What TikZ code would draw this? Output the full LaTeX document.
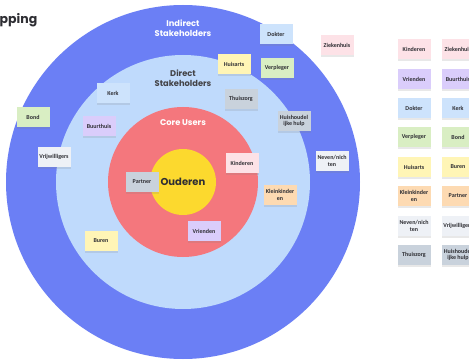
\documentclass[tikz,border=0pt]{standalone}
\usepackage{fontspec}
\setmainfont{Carlito}
\newfontfamily\headfont{Poppins}
\usetikzlibrary{shadows}

\definecolor{outerblue}{HTML}{6B7FF5}
\definecolor{innerblue}{HTML}{BFDAFC}
\definecolor{coreRed}{HTML}{F4777D}
\definecolor{centreYellow}{HTML}{FCD92E}
\definecolor{inkgray}{HTML}{2E2E33}
\definecolor{pinknote}{HTML}{FDE2E7}
\definecolor{purplenote}{HTML}{DACDFB}
\definecolor{bluenote}{HTML}{CDE3FC}
\definecolor{greennote}{HTML}{D9EEC3}
\definecolor{yellownote}{HTML}{FFF5B6}
\definecolor{orangenote}{HTML}{FDDAB2}
\definecolor{palenote}{HTML}{EEF1F6}
\definecolor{graynote}{HTML}{C9D2DC}

\tikzset{
  note/.style={rectangle,
    minimum width=33pt,
    minimum height=20pt,
    inner sep=1pt,
    align=center,
    text=inkgray,
    font=\fontsize{6}{6.8}\selectfont\bfseries,
    drop shadow={opacity=0.18, shadow xshift=0.6pt, shadow yshift=-1.6pt}},
  ringlabel/.style={align=center, font=\headfont\bfseries\fontsize{8.3}{10.3}\selectfont},
}

\begin{document}
\begin{tikzpicture}[x=1pt, y=-1pt]
    \useasboundingbox (0,0) rectangle (469,361);
    \fill[white] (0,0) rectangle (469,361);

    % rings
    \fill[color=outerblue] (183,182) circle[radius=177];
    \fill[color=innerblue] (183,182) circle[radius=127];
    \fill[color=coreRed] (183,182) circle[radius=75];
    \fill[color=centreYellow] (183,182) circle[radius=33];

    \node[anchor=west, inner sep=0pt, text=inkgray, font=\headfont\bfseries\fontsize{12.5}{14}\selectfont] (title) at (-0.5,20) {pping};

    \node[ringlabel, text=white] (indirect) at (183,28) {Indirect\\Stakeholders};
    \node[ringlabel, text=inkgray!90] (direct) at (183,78) {Direct\\Stakeholders};
    \node[ringlabel, text=white] (core) at (183,123) {Core Users};
    \node[ringlabel, text=inkgray, font=\headfont\bfseries\fontsize{10}{12}\selectfont] (ouderen) at (183,182) {Ouderen};

    % notes on the rings
    \node[note, fill=bluenote] (dokter) at (276,34) {Dokter};
    \node[note, fill=pinknote] (ziekenhuis) at (337,45) {Ziekenhuis};
    \node[note, fill=yellownote] (huisarts) at (234,64) {Huisarts};
    \node[note, fill=greennote] (verpleger) at (277,68) {Verpleger};
    \node[note, fill=graynote] (thuiszorg) at (241,99) {Thuiszorg};
    \node[note, fill=graynote] (huishoud) at (294,121) {Huishoudel\\ijke hulp};
    \node[note, fill=bluenote] (kerk) at (113,93) {Kerk};
    \node[note, fill=greennote] (bond) at (33,117) {Bond};
    \node[note, fill=purplenote] (buurthuis) at (99,126) {Buurthuis};
    \node[note, fill=palenote] (vrijwilligers) at (54,157) {Vrijwilligers};
    \node[note, fill=graynote] (partner) at (142,182) {Partner};
    \node[note, fill=pinknote] (kinderen) at (242,163) {Kinderen};
    \node[note, fill=orangenote] (kleinkinderen) at (280,195) {Kleinkinder\\en};
    \node[note, fill=purplenote] (vrienden) at (204,231) {Vrienden};
    \node[note, fill=yellownote] (buren) at (101,241) {Buren};
    \node[note, fill=palenote] (neven) at (332,161) {Neven/nich\\ten};

    % loose notes, two columns
    \node[note, fill=pinknote] (l1a) at (414,49) {Kinderen};
    \node[note, fill=pinknote] (l1b) at (458,49) {Ziekenhuis};
    \node[note, fill=purplenote] (l2a) at (414,79) {Vrienden};
    \node[note, fill=purplenote] (l2b) at (458,79) {Buurthuis};
    \node[note, fill=bluenote] (l3a) at (414,108) {Dokter};
    \node[note, fill=bluenote] (l3b) at (458,108) {Kerk};
    \node[note, fill=greennote] (l4a) at (414,137) {Verpleger};
    \node[note, fill=greennote] (l4b) at (458,137) {Bond};
    \node[note, fill=yellownote] (l5a) at (414,167) {Huisarts};
    \node[note, fill=yellownote] (l5b) at (458,167) {Buren};
    \node[note, fill=orangenote] (l6a) at (414,196) {Kleinkinder\\en};
    \node[note, fill=orangenote] (l6b) at (458,196) {Partner};
    \node[note, fill=palenote] (l7a) at (414,226) {Neven/nich\\ten};
    \node[note, fill=palenote] (l7b) at (458,226) {Vrijwilligers};
    \node[note, fill=graynote] (l8a) at (414,255) {Thuiszorg};
    \node[note, fill=graynote] (l8b) at (458,255) {Huishoudel\\ijke hulp};
\end{tikzpicture}
\end{document}
